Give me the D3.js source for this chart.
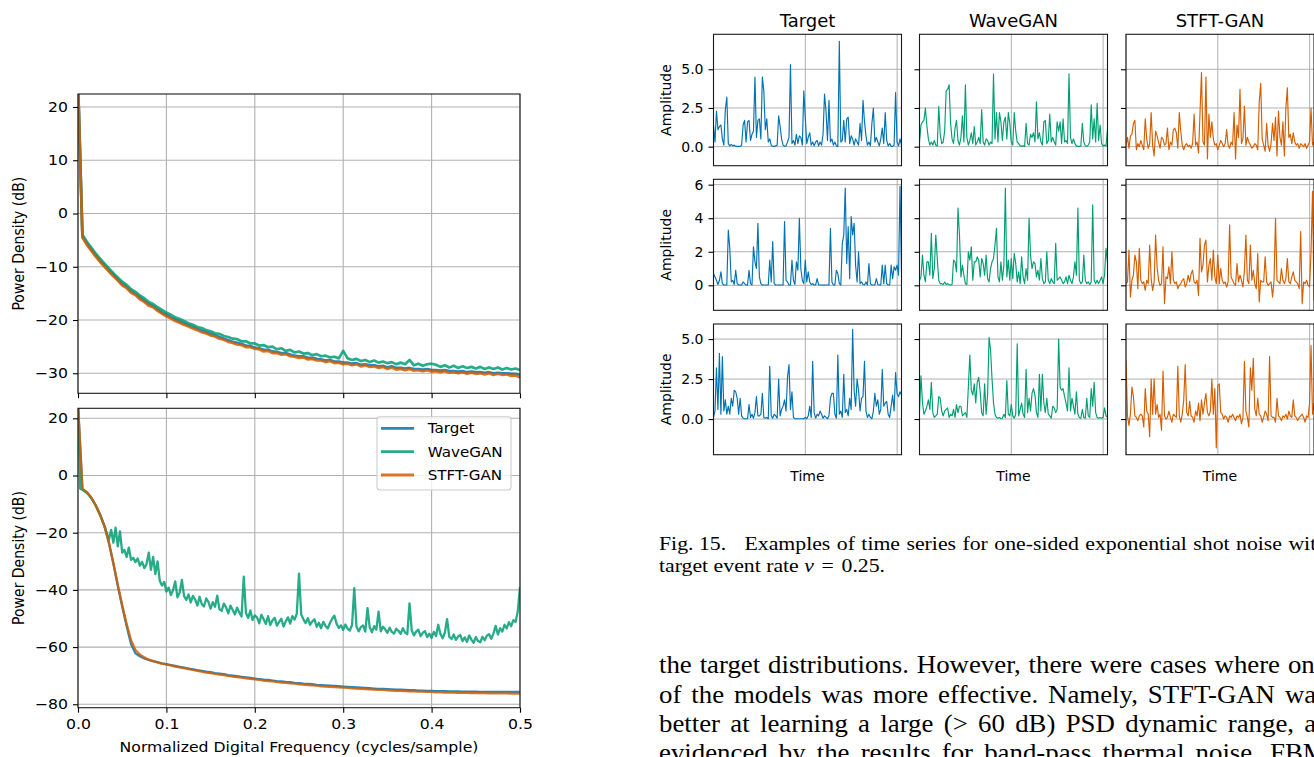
<!DOCTYPE html>
<html>
<head>
<meta charset="utf-8">
<script src="https://cdn.jsdelivr.net/npm/d3@7"></script>
<style>
  html, body { margin: 0; padding: 0; background: #fff; overflow: hidden; }
  svg { display: block; }
</style>
</head>
<body>
<svg id="page" width="1314" height="757"></svg>
<script>
// ---------------- Power spectral densities (dB) ----------------
const psdSeriesNames = ["Target", "WaveGAN", "STFT-GAN"];
const psdFreqTicks = [0, 0.1, 0.2, 0.3, 0.4, 0.5];
const psdTopDbTicks = [-30, -20, -10, 0, 10, 20];
const psdBottomDbTicks = [-80, -60, -40, -20, 0, 20];

// upper panel, bins every 0.005 cycles/sample (first bin = DC)
const psdTopTarget = [25,
  -4.3, -5.6, -6.8, -7.8, -8.9, -9.7, -10.7, -11.5, -12.4, -13.2,
  -13.8, -14.6, -15.1, -15.8, -16.4, -17.0, -17.4, -18.0, -18.6, -19.0,
  -19.5, -19.9, -20.3, -20.6, -21.0, -21.3, -21.7, -22.0, -22.3, -22.6,
  -22.9, -23.2, -23.5, -23.8, -24.1, -24.3, -24.5, -24.8, -24.9, -25.2,
  -25.3, -25.6, -25.6, -25.9, -26.0, -26.2, -26.2, -26.5, -26.7, -26.8,
  -26.8, -27.1, -27.1, -27.3, -27.4, -27.6, -27.5, -27.8, -27.8, -28.0,
  -28.0, -28.2, -28.1, -28.4, -28.3, -28.5, -28.5, -28.7, -28.6, -28.9,
  -28.7, -29.0, -29.0, -29.1, -29.0, -29.2, -29.2, -29.3, -29.2, -29.4,
  -29.4, -29.5, -29.4, -29.6, -29.6, -29.7, -29.6, -29.8, -29.7, -29.8,
  -29.8, -29.9, -29.8, -30.0, -29.9, -30.0, -30.0, -30.1, -30.1, -30.3];
const psdTopWaveGAN = [25,
  -4.0, -5.3, -6.4, -7.5, -8.5, -9.4, -10.3, -11.2, -12.0, -12.8,
  -13.4, -14.2, -14.7, -15.4, -15.9, -16.6, -17.0, -17.6, -18.1, -18.6,
  -19.0, -19.5, -19.8, -20.2, -20.6, -20.9, -21.3, -21.5, -21.9, -22.1,
  -22.5, -22.6, -23.0, -23.2, -23.5, -23.6, -24.0, -24.0, -24.4, -24.4,
  -24.8, -24.7, -25.1, -25.0, -25.5, -25.3, -25.8, -25.6, -26.1, -25.9,
  -26.3, -26.2, -26.6, -26.4, -26.8, -26.7, -27.0, -26.9, -27.2, -25.8,
  -27.2, -27.5, -27.3, -27.7, -27.5, -27.9, -27.6, -28.0, -27.8, -28.1,
  -27.9, -28.3, -28.0, -28.3, -27.5, -28.5, -28.2, -28.6, -28.3, -28.2,
  -28.4, -28.8, -28.5, -28.9, -28.6, -29.0, -28.7, -29.0, -28.8, -29.1,
  -28.8, -29.2, -28.9, -29.2, -28.9, -29.3, -29.0, -29.3, -29.1, -29.4];
const psdTopSTFT = [25,
  -4.5, -5.9, -7.0, -8.1, -9.1, -10.0, -10.9, -11.8, -12.6, -13.5,
  -14.0, -14.9, -15.3, -16.1, -16.6, -17.3, -17.6, -18.3, -18.8, -19.3,
  -19.7, -20.2, -20.5, -20.9, -21.2, -21.6, -21.9, -22.3, -22.5, -22.9,
  -23.1, -23.5, -23.7, -24.1, -24.3, -24.6, -24.7, -25.1, -25.1, -25.4,
  -25.5, -25.9, -25.8, -26.2, -26.2, -26.5, -26.4, -26.8, -26.9, -27.1,
  -27.0, -27.4, -27.3, -27.6, -27.6, -27.9, -27.7, -28.1, -28.0, -28.3,
  -28.2, -28.5, -28.3, -28.7, -28.5, -28.8, -28.7, -29.0, -28.8, -29.2,
  -28.9, -29.3, -29.2, -29.4, -29.2, -29.5, -29.4, -29.6, -29.4, -29.7,
  -29.6, -29.8, -29.6, -29.9, -29.8, -30.0, -29.8, -30.1, -29.9, -30.1,
  -30.0, -30.2, -30.0, -30.3, -30.1, -30.3, -30.2, -30.5, -30.4, -30.8];

// lower panel, bins every 0.005 (Target, STFT-GAN) and 0.0025 (WaveGAN)
const psdBottomTarget = [25,
  -4.8, -5.9, -7.8, -10.5, -13.8, -17.8, -23.6, -30.8, -38.6, -45.8,
  -52.6, -58.9, -62.2, -63.2, -64.0, -64.5, -64.9, -65.3, -65.7, -66.0,
  -66.3, -66.6, -66.9, -67.2, -67.5, -67.8, -68.1, -68.3, -68.6, -68.8,
  -69.1, -69.3, -69.5, -69.8, -70.0, -70.2, -70.4, -70.6, -70.8, -71.0,
  -71.2, -71.4, -71.5, -71.7, -71.9, -72.0, -72.2, -72.3, -72.5, -72.6,
  -72.8, -72.9, -73.0, -73.2, -73.3, -73.4, -73.5, -73.6, -73.7, -73.8,
  -73.9, -74.0, -74.1, -74.2, -74.3, -74.4, -74.5, -74.6, -74.6, -74.7,
  -74.8, -74.9, -74.9, -75.0, -75.1, -75.1, -75.2, -75.2, -75.3, -75.3,
  -75.4, -75.4, -75.4, -75.5, -75.5, -75.5, -75.6, -75.6, -75.6, -75.6,
  -75.7, -75.7, -75.7, -75.7, -75.7, -75.7, -75.7, -75.7, -75.7, -75.7];
const psdBottomSTFT = [25,
  -4.6, -5.8, -7.7, -10.4, -13.7, -17.8, -23.5, -30.6, -38.2, -45.3,
  -51.9, -57.6, -61.0, -62.6, -63.6, -64.4, -64.9, -65.4, -65.8, -66.1,
  -66.4, -66.8, -67.1, -67.4, -67.7, -68.0, -68.3, -68.6, -68.9, -69.1,
  -69.4, -69.6, -69.8, -70.1, -70.3, -70.5, -70.7, -70.9, -71.1, -71.3,
  -71.5, -71.7, -71.9, -72.0, -72.2, -72.4, -72.5, -72.7, -72.8, -73.0,
  -73.1, -73.3, -73.4, -73.5, -73.7, -73.8, -73.9, -74.0, -74.1, -74.2,
  -74.3, -74.4, -74.5, -74.6, -74.7, -74.8, -74.9, -75.0, -75.0, -75.1,
  -75.2, -75.3, -75.3, -75.4, -75.5, -75.5, -75.6, -75.6, -75.7, -75.7,
  -75.8, -75.8, -75.9, -75.9, -75.9, -76.0, -76.0, -76.0, -76.1, -76.1,
  -76.1, -76.1, -76.2, -76.2, -76.2, -76.2, -76.2, -76.3, -76.3, -76.3];
const psdBottomWaveGAN = [25,
  -4.6, -5.0, -5.5, -6.1, -6.9, -7.9, -9.0, -10.4, -12.0, -13.7,
  -15.6, -17.7, -20.0, -22.5, -19.0, -23.5, -18.2, -24.8, -19.5, -27.0,
  -26.0, -28.5, -25.2, -29.5, -28.8, -30.3, -29.0, -31.5, -30.2, -32.4,
  -31.0, -27.0, -33.0, -28.5, -34.5, -30.0, -36.8, -38.5, -37.2, -40.6,
  -39.2, -41.8, -40.1, -37.0, -42.6, -41.0, -36.5, -42.2, -43.5, -41.6,
  -44.4, -42.1, -43.3, -45.5, -42.4, -44.9, -45.8, -43.0, -44.2, -46.6,
  -44.3, -45.9, -42.0, -46.8, -47.3, -44.8, -46.1, -48.2, -45.5, -47.0,
  -48.6, -46.2, -47.9, -49.3, -35.4, -48.1, -49.8, -47.2, -50.5, -48.9,
  -49.6, -51.7, -48.7, -50.3, -51.9, -49.2, -52.3, -50.6, -49.8, -52.5,
  -51.2, -50.1, -52.8, -51.0, -49.6, -51.8, -49.2, -50.4, -48.3, -34.3,
  -48.6, -50.3, -51.6, -49.9, -52.2, -51.0, -50.3, -52.9, -51.5, -53.4,
  -51.2, -52.6, -53.5, -51.6, -50.1, -49.0, -51.8, -53.3, -52.4, -54.0,
  -52.1, -53.6, -54.2, -52.3, -39.4, -52.8, -54.5, -53.0, -52.4, -54.6,
  -46.4, -53.1, -54.8, -52.7, -53.9, -47.6, -54.5, -52.9, -53.8, -55.0,
  -53.2, -54.7, -55.3, -53.6, -54.3, -55.4, -53.4, -54.9, -55.5, -44.7,
  -54.1, -55.9, -54.6, -53.9, -56.2, -55.0, -54.4, -56.5, -55.3, -56.8,
  -54.7, -56.1, -52.2, -55.4, -56.9, -55.0, -50.2, -56.4, -57.2, -55.6,
  -57.5, -56.3, -55.8, -57.9, -56.6, -58.2, -55.9, -57.4, -58.5, -56.5,
  -57.9, -58.3, -56.4, -57.6, -56.0, -55.5, -57.1, -55.2, -52.6, -55.6,
  -53.4, -54.6, -52.2, -53.5, -51.3, -52.7, -50.6, -51.2, -47.5, -39.0];

// ---------------- Time series examples ----------------
const tsColumnNames = ["Target", "WaveGAN", "STFT-GAN"];
const tsTimeTicks = [0, 2000, 4000];
const tsAmpTicksRow1 = [0, 2.5, 5];
const tsAmpTicksRow2 = [0, 2, 4, 6];
const tsAmpTicksRow3 = [0, 2.5, 5];

const tsTarget1 = [
  1.4, 0.3, 2.3, 1.1, 1.3, 1.4, 0.5, 0.1, 2.4, 3.2, 0.2, 0.05, 0.15, 0.05, 0.1, 0.02,
  0.02, 0.02, 0.02, 0.1, 1.4, 1.7, 0.3, 1.6, 1.7, 0.4, 0.8, 1.0, 4.5, 0.6, 1.7, 1.8,
  0.5, 4.5, 3.6, 1.1, 1.8, 0.3, 0.5, 0.1, 0.02, 0.02, 0.05, 0.1, 2.0, 1.3, 0.5, 0.1,
  0.02, 0.05, 0.3, 0.6, 5.3, 0.2, 0.4, 0.1, 0.8, 0.2, 0.7, 0.6, 0.1, 3.6, 1.9, 0.2,
  0.6, 0.9, 0.1, 0.3, 0.05, 0.3, 0.4, 0.05, 0.3, 0.1, 0.8, 3.4, 2.3, 0.4, 3.0, 0.3,
  0.5, 0.1, 0.3, 0.05, 0.02, 6.8, 0.3, 0.4, 1.7, 0.3, 1.8, 1.9, 0.2, 0.7, 0.5, 0.1,
  0.5, 0.3, 0.1, 1.5, 0.4, 3.0, 1.6, 0.7, 0.1, 0.3, 0.05, 1.5, 2.5, 0.3, 0.6, 0.3,
  0.05, 0.5, 1.2, 0.2, 2.2, 0.4, 0.05, 0.2, 0.02, 0.02, 0.1, 3.5, 0.3, 0.05, 0.5, 0.1];
const tsWaveGAN1 = [
  0.3, 1.4, 1.6, 1.7, 2.5, 1.3, 0.5, 0.1, 0.3, 0.1, 0.4, 0.1, 0.05, 2.6, 0.8, 0.2,
  0.3, 1.0, 3.6, 3.7, 4.0, 1.5, 0.5, 0.2, 1.2, 1.7, 0.4, 0.1, 0.6, 2.0, 0.3, 4.0,
  0.6, 0.1, 0.4, 0.9, 0.2, 1.3, 0.1, 0.3, 0.6, 0.2, 2.4, 0.3, 0.1, 0.5, 0.4, 0.1,
  0.3, 0.2, 4.7, 0.5, 2.2, 0.3, 2.2, 1.6, 0.4, 1.6, 1.9, 0.5, 2.2, 1.5, 0.3, 0.1,
  2.2, 1.0, 0.3, 0.2, 0.05, 0.02, 0.05, 0.02, 1.5, 0.2, 0.1, 0.8, 0.6, 0.9, 0.3, 2.9,
  0.5, 0.9, 0.3, 0.1, 1.6, 1.7, 0.2, 0.4, 2.1, 0.3, 0.6, 0.3, 0.1, 1.6, 1.0, 1.6,
  0.2, 1.8, 0.3, 0.4, 0.2, 4.7, 0.6, 0.2, 0.5, 0.2, 0.05, 0.02, 0.02, 0.05, 1.5, 0.3,
  0.05, 0.02, 0.1, 0.3, 2.7, 0.5, 1.8, 0.3, 2.8, 0.4, 1.4, 0.2, 0.05, 0.1, 0.05, 1.1];
const tsSTFT1 = [
  0.1, 0.6, -0.1, 0.7, 0.8, 1.5, 1.7, -0.2, 0.2, 0.0, 0.4, 0.1, -0.2, 1.8, 0.5, -0.1,
  0.2, 2.2, 0.1, -0.6, 1.0, 0.7, 0.3, -0.1, 0.6, 0.5, 0.1, 0.2, 1.2, -0.2, 0.3, 0.1,
  1.1, 1.2, 0.9, -0.1, 2.2, 1.0, 0.1, -0.2, 0.1, 0.2, 0.0, 0.1, -0.1, 0.2, 2.1, 0.1,
  0.3, -0.4, 2.2, 4.8, 0.3, 0.1, 4.5, -0.8, 2.1, 0.6, 1.6, 0.5, 0.1, 0.2, -0.2, 0.1,
  0.4, 0.2, 0.0, 0.2, 1.1, 0.1, -0.1, 0.3, 0.1, 2.2, -0.8, 1.4, 0.6, 3.7, 0.2, 0.5,
  2.6, 0.1, 0.6, 0.3, 0.1, -0.1, 0.0, 0.2, 0.1, -0.2, 2.9, 4.1, 0.5, 0.1, -0.3, 1.5,
  0.1, -0.3, 0.2, 1.5, 0.4, 1.9, -0.6, 2.3, 0.6, 0.1, 1.6, -0.6, 2.5, 3.8, 0.6, 0.8,
  0.2, 0.9, 0.3, 0.1, 0.2, -0.1, 0.2, 0.1, 0.0, 0.2, -0.1, 0.1, 0.3, 2.5, 0.1, 0.3];

const tsTarget2 = [
  0.7, 0.5, 0.3, 0.05, 0.3, 0.8, 0.1, 0.02, 0.02, 0.02, 3.3, 2.2, 0.2, 0.3, 0.05, 0.9,
  0.1, 0.02, 0.02, 0.02, 0.2, 0.1, 0.02, 0.02, 0.9, 0.1, 0.02, 2.3, 1.4, 1.0, 3.7, 0.5,
  0.1, 0.02, 0.02, 0.02, 0.02, 0.02, 1.5, 0.2, 2.6, 0.1, 0.02, 0.02, 0.02, 0.02, 0.02, 0.02,
  3.8, 0.3, 0.2, 0.02, 0.02, 1.5, 0.3, 0.05, 1.4, 0.9, 4.0, 1.0, 0.3, 0.1, 1.5, 0.2,
  0.8, 0.2, 0.05, 0.1, 0.02, 0.02, 0.4, 0.02, 0.02, 0.02, 0.02, 0.02, 0.02, 0.02, 0.02, 3.4,
  0.2, 0.02, 0.02, 0.9, 0.7, 0.1, 0.02, 2.5, 3.0, 5.8, 1.3, 3.5, 0.4, 4.1, 3.0, 3.7,
  1.2, 0.2, 2.0, 0.1, 0.2, 0.05, 0.02, 0.2, 0.02, 1.3, 0.1, 0.02, 0.02, 0.02, 0.4, 0.05,
  0.02, 0.02, 1.2, 0.1, 1.2, 0.1, 0.02, 0.02, 1.2, 0.4, 1.1, 0.9, 1.2, 0.6, 5.9, 0.8];
const tsWaveGAN2 = [
  0.3, 0.5, 1.8, 0.6, 0.2, 1.4, 1.4, 0.6, 3.1, 0.4, 1.0, 3.0, 1.6, 0.3, 0.1, 0.1,
  0.05, 0.2, 0.05, 0.1, 0.05, 0.02, 0.05, 1.5, 1.4, 0.8, 4.6, 3.0, 0.5, 1.2, 0.6, 0.1,
  0.05, 2.0, 1.5, 2.3, 0.3, 1.4, 1.4, 1.7, 1.5, 0.5, 1.6, 1.3, 0.6, 1.8, 0.4, 0.2,
  1.0, 1.4, 1.6, 2.4, 3.4, 0.5, 0.2, 1.4, 0.3, 1.2, 5.8, 0.5, 1.5, 0.3, 1.6, 0.4,
  1.9, 1.3, 0.2, 0.8, 0.1, 1.7, 0.5, 0.1, 1.0, 0.3, 4.0, 1.8, 1.0, 1.4, 1.3, 0.5,
  0.9, 0.3, 1.6, 0.4, 0.1, 0.2, 2.0, 0.3, 0.1, 0.4, 0.2, 0.1, 2.5, 0.3, 0.4, 0.5,
  0.3, 0.1, 0.2, 0.5, 0.1, 0.6, 0.3, 0.1, 0.5, 1.4, 0.6, 4.6, 0.3, 0.1, 0.2, 1.8,
  0.3, 0.1, 0.2, 0.05, 0.2, 4.8, 0.3, 0.1, 0.3, 0.1, 0.3, 0.5, 0.1, 0.6, 2.2, 1.4];
const tsSTFT2 = [
  0.1, 0.2, 2.1, -0.7, 0.3, 0.6, 1.8, 1.4, -0.2, 2.2, 0.3, 0.1, 0.2, -0.3, 0.3, 0.1,
  2.4, 0.4, -0.3, 0.2, 3.0, 1.1, 0.3, 0.0, 0.1, 2.3, -1.1, 0.5, 0.4, 1.1, 0.1, 2.0,
  0.3, 0.1, 0.2, -0.2, 0.0, 0.1, 0.3, 0.4, -0.1, 0.1, 0.6, 0.2, 0.7, 0.9, 0.2, 0.1,
  0.3, -0.6, 2.8, 0.8, 1.2, 2.4, 2.7, 0.2, 1.2, 1.6, 0.3, 2.1, 0.5, 0.1, 1.8, 0.1,
  1.0, 0.3, 0.1, 0.2, -0.1, 0.2, 3.6, 0.5, 0.3, 0.1, 0.0, 1.3, 0.2, 0.6, 0.3, -0.1,
  0.9, 3.0, 0.3, 0.1, 2.4, 0.3, 0.9, 0.1, -0.2, 1.9, -1.0, 0.3, 0.2, 0.2, 1.7, 0.2,
  0.0, 0.1, 0.2, -0.7, 0.3, 4.0, 0.3, 0.2, 0.1, 1.0, 0.3, 0.1, 0.4, 1.6, 0.2, 0.1,
  0.5, 0.8, 0.3, 0.2, 0.1, -0.2, 3.2, -1.1, 0.2, 0.1, 0.3, 0.0, -0.1, 2.0, 5.6, -0.9];

const tsTarget3 = [
  0.1, 0.5, 3.2, 0.6, 4.1, 0.3, 3.9, 0.5, 1.2, 0.3, 0.8, 0.3, 1.3, 0.8, 1.8, 1.7,
  1.3, 0.3, 1.3, 0.2, 0.05, 0.02, 0.02, 0.02, 0.9, 0.1, 0.3, 0.05, 0.4, 1.4, 0.2, 0.2,
  0.3, 1.6, 0.1, 0.05, 0.1, 0.02, 3.3, 0.2, 0.05, 0.3, 0.2, 0.05, 2.5, 0.2, 0.6, 0.8,
  1.2, 0.5, 2.6, 3.4, 0.6, 1.7, 0.1, 0.02, 0.02, 0.02, 0.02, 0.02, 0.02, 0.02, 0.1, 0.02,
  0.2, 0.8, 0.1, 3.6, 0.4, 0.05, 0.3, 0.2, 0.5, 0.3, 0.05, 0.2, 0.1, 0.02, 0.2, 1.3,
  1.6, 1.6, 0.3, 0.05, 4.0, 0.3, 0.5, 0.1, 2.8, 0.4, 0.6, 0.2, 1.3, 0.6, 5.6, 1.8,
  0.8, 2.5, 1.8, 0.5, 1.3, 1.4, 3.6, 0.5, 0.1, 0.3, 0.1, 0.02, 0.5, 1.6, 0.8, 1.2,
  0.3, 0.6, 3.1, 0.8, 1.0, 1.1, 0.3, 0.1, 0.8, 1.5, 0.5, 2.9, 1.6, 1.4, 1.7, 1.5];
const tsWaveGAN3 = [
  0.5, 2.7, 1.0, 0.3, 0.5, 0.8, 1.2, 0.6, 2.3, 0.4, 0.1, 0.2, 0.3, 1.4, 1.3, 0.5,
  0.2, 0.5, 0.6, 0.7, 0.1, 0.3, 0.2, 0.6, 0.1, 0.9, 0.4, 0.8, 0.8, 0.2, 0.3, 0.4,
  0.1, 2.0, 4.0, 1.8, 1.5, 2.2, 1.0, 2.3, 2.6, 1.7, 0.4, 0.2, 2.2, 0.3, 1.5, 5.1,
  4.3, 2.5, 1.0, 0.3, 0.1, 0.05, 0.1, 0.02, 0.05, 0.3, 0.1, 2.4, 0.3, 0.2, 0.9, 0.2,
  0.05, 0.3, 4.7, 0.2, 0.6, 1.0, 0.3, 0.1, 3.1, 0.4, 1.3, 0.5, 1.6, 1.9, 1.5, 0.4,
  0.1, 2.8, 0.5, 2.8, 1.0, 0.4, 1.3, 0.3, 0.2, 0.05, 0.8, 0.7, 0.4, 0.6, 5.0, 2.0,
  1.8, 1.9, 1.4, 1.0, 0.5, 3.2, 0.5, 1.3, 0.8, 0.3, 1.7, 0.3, 0.1, 0.05, 0.6, 0.1,
  0.05, 1.3, 0.2, 0.1, 1.9, 0.8, 2.3, 0.4, 0.1, 0.05, 0.1, 0.05, 0.1, 0.7, 0.2, 0.1];
const tsSTFT3 = [
  3.7, 0.2, -0.4, 0.3, 2.0, 1.4, 0.2, 0.1, -0.1, 0.2, 0.3, 0.2, -0.5, 1.9, 0.5, 0.3,
  -1.1, 2.5, 0.3, 2.5, 0.3, 0.9, 0.1, 0.3, -0.7, 3.0, 0.2, 0.0, 0.1, 0.5, 0.1, -0.2,
  0.3, 0.2, 0.1, 3.3, 0.2, -0.2, 0.3, 1.2, 3.4, 0.4, 0.2, 1.1, 0.2, 0.1, -0.2, 0.5,
  0.2, 1.0, -0.1, 1.2, 0.3, 1.0, 1.6, 0.4, 0.2, 0.5, 2.5, 0.3, 1.9, -1.8, 2.1, 2.2,
  0.4, 0.3, 0.0, 0.2, 0.1, -0.2, 0.2, 0.1, 0.3, 0.1, -0.1, 0.2, 0.1, 0.3, -0.3, 0.1,
  3.6, 0.5, 0.1, -0.5, 3.2, 1.8, 3.8, 0.6, 0.2, 1.3, 0.3, 0.2, -0.2, 0.1, 0.5, 0.3,
  -0.1, 3.9, 0.2, 0.1, 0.1, -0.2, 1.3, 0.2, 0.1, -0.1, 0.2, 0.1, 0.3, 0.0, 0.5, 0.2,
  0.1, 1.2, 0.2, 0.1, -0.1, 0.1, 0.2, 0.3, 0.1, -0.2, 0.2, 0.1, 1.0, 4.6, 0.3, 1.0];

// ---------------- drawing ----------------
const FONT = "'DejaVu Sans', sans-serif";
const SERIF = "'Liberation Serif', 'Times New Roman', serif";
const colors = { "Target": "#0072B2", "WaveGAN": "#009E73", "STFT-GAN": "#D55E00" };
const GRID = "#b0b0b0";
const PSD_TEXT_STRETCH = 1.12;   // the spectrum figure is set slightly wider than tall
const PAGE_TEXT_STRETCH = 1.1;   // page typeface runs a little wider than Liberation Serif
const svg = d3.select("#page");
svg.append("rect").attr("width", 1314).attr("height", 757).attr("fill", "#fff");

let clipSeq = 0;
function addClip(b) {
  const id = "plotclip" + (clipSeq++);
  svg.append("clipPath").attr("id", id).append("rect")
    .attr("x", b.x0).attr("y", b.y0).attr("width", b.x1 - b.x0).attr("height", b.y1 - b.y0);
  return id;
}

// widen text horizontally around its anchor point
function stretchText(sel, sx) {
  sel.each(function () {
    const t = d3.select(this);
    const x = +t.attr("x") || 0, y = +t.attr("y") || 0;
    const prev = t.attr("transform") || "";
    t.attr("x", 0).attr("y", 0).attr("transform", `translate(${x},${y}) scale(${sx},1) ${prev}`);
  });
}

function styleAxis(g, size) {
  g.attr("font-family", FONT).attr("font-size", size);
  g.select(".domain").remove();
  g.selectAll(".tick line").attr("stroke", "#000").attr("stroke-width", 1.1);
  g.selectAll(".tick text").attr("fill", "#000");
}

function drawGrid(g, box, x, y, xTicks, yTicks, width) {
  g.append("g").selectAll("line").data(xTicks).join("line")
    .attr("x1", d => x(d)).attr("x2", d => x(d))
    .attr("y1", box.y0).attr("y2", box.y1)
    .attr("stroke", GRID).attr("stroke-width", width);
  g.append("g").selectAll("line").data(yTicks).join("line")
    .attr("x1", box.x0).attr("x2", box.x1)
    .attr("y1", d => y(d)).attr("y2", d => y(d))
    .attr("stroke", GRID).attr("stroke-width", width);
}

function drawFrame(g, box) {
  g.append("rect")
    .attr("x", box.x0).attr("y", box.y0)
    .attr("width", box.x1 - box.x0).attr("height", box.y1 - box.y0)
    .attr("fill", "none").attr("stroke", "#1a1a1a").attr("stroke-width", 1.1);
}

// Power spectral density panel
function drawPsdPanel(box, yDomain, yTicks, series, showXLabels, lineWidth) {
  const x = d3.scaleLinear().domain([0, 0.5]).range([box.x0, box.x1]);
  const y = d3.scaleLinear().domain(yDomain).range([box.y1, box.y0]);
  const g = svg.append("g");
  const clip = addClip(box);
  drawGrid(g, box, x, y, psdFreqTicks, yTicks, 1.1);

  const line = d3.line().x(d => x(d[0])).y(d => y(d[1]));
  const lines = g.append("g").attr("clip-path", `url(#${clip})`);
  series.forEach(s => {
    const step = 0.5 / (s.values.length - 1);
    lines.append("path")
      .datum(s.values.map((v, i) => [i * step, v]))
      .attr("d", line)
      .attr("fill", "none")
      .attr("stroke", colors[s.name])
      .attr("stroke-opacity", 0.85)
      .attr("stroke-width", lineWidth)
      .attr("stroke-linejoin", "round");
  });
  drawFrame(g, box);

  const ax = g.append("g").attr("transform", `translate(0,${box.y1})`)
    .call(d3.axisBottom(x).tickValues(psdFreqTicks).tickSize(5).tickPadding(6)
      .tickFormat(showXLabels ? d3.format(".1f") : () => ""));
  styleAxis(ax, 14);
  stretchText(ax.selectAll(".tick text"), PSD_TEXT_STRETCH);
  const ay = g.append("g").attr("transform", `translate(${box.x0},0)`)
    .call(d3.axisLeft(y).tickValues(yTicks).tickSize(5).tickPadding(5).tickFormat(d3.format("d")));
  styleAxis(ay, 14);
  stretchText(ay.selectAll(".tick text"), PSD_TEXT_STRETCH);

  g.append("text")
    .attr("transform", `translate(18.6,${(box.y0 + box.y1) / 2}) scale(${PSD_TEXT_STRETCH},1) rotate(-90)`)
    .attr("text-anchor", "middle").attr("dy", "0.35em")
    .attr("font-family", FONT).attr("font-size", 14).attr("fill", "#000")
    .text("Power Density (dB)");
  return { x, y };
}

const topBox = { x0: 78, x1: 520, y0: 94, y1: 393.3 };
const botBox = { x0: 78, x1: 520, y0: 408.3, y1: 707.7 };

drawPsdPanel(topBox, [-33.76, 22.44], psdTopDbTicks, [
  { name: "Target", values: psdTopTarget },
  { name: "WaveGAN", values: psdTopWaveGAN },
  { name: "STFT-GAN", values: psdTopSTFT }
], false, 2.7);

drawPsdPanel(botBox, [-81.2, 23.5], psdBottomDbTicks, [
  { name: "Target", values: psdBottomTarget },
  { name: "WaveGAN", values: psdBottomWaveGAN },
  { name: "STFT-GAN", values: psdBottomSTFT }
], true, 2.3);

const xTitle = svg.append("text")
  .attr("x", (botBox.x0 + botBox.x1) / 2).attr("y", 751.5)
  .attr("text-anchor", "middle")
  .attr("font-family", FONT).attr("font-size", 14).attr("fill", "#000")
  .text("Normalized Digital Frequency (cycles/sample)");
stretchText(xTitle, PSD_TEXT_STRETCH);

// legend
const legend = svg.append("g");
legend.append("rect")
  .attr("x", 377).attr("y", 416.7).attr("width", 134).attr("height", 73.3).attr("rx", 3)
  .attr("fill", "#fff").attr("fill-opacity", 0.8)
  .attr("stroke", "#cccccc").attr("stroke-width", 1.1);
psdSeriesNames.forEach((name, i) => {
  const cy = 428.3 + i * 23.35;
  legend.append("line")
    .attr("x1", 381).attr("x2", 414).attr("y1", cy).attr("y2", cy)
    .attr("stroke", colors[name]).attr("stroke-opacity", 0.85).attr("stroke-width", 2.8);
  const t = legend.append("text")
    .attr("x", 427.7).attr("y", cy).attr("dy", "0.35em")
    .attr("font-family", FONT).attr("font-size", 14).attr("fill", "#000")
    .text(name);
  stretchText(t, 1.08);
});

// Time series grid (3 rows x 3 models)
const tsColX = [713.5, 919.5, 1126];
const tsWidth = 188;
const tsRows = [
  { y0: 34.3, y1: 165.7, domain: [-1.23, 7.26], ticks: tsAmpTicksRow1, fmt: ".1f",
    series: [tsTarget1, tsWaveGAN1, tsSTFT1] },
  { y0: 179.3, y1: 310.3, domain: [-1.49, 6.32], ticks: tsAmpTicksRow2, fmt: "d",
    series: [tsTarget2, tsWaveGAN2, tsSTFT2] },
  { y0: 324, y1: 454.7, domain: [-2.23, 5.94], ticks: tsAmpTicksRow3, fmt: ".1f",
    series: [tsTarget3, tsWaveGAN3, tsSTFT3] }
];
const tsLastSample = 4095;

tsRows.forEach((row, r) => {
  tsColumnNames.forEach((name, c) => {
    const box = { x0: tsColX[c], x1: tsColX[c] + tsWidth, y0: row.y0, y1: row.y1 };
    const x = d3.scaleLinear().domain([0, tsLastSample]).range([box.x0, box.x1]);
    const y = d3.scaleLinear().domain(row.domain).range([box.y1, box.y0]);
    const g = svg.append("g");
    const clip = addClip(box);
    drawGrid(g, box, x, y, tsTimeTicks, row.ticks, 1.0);

    const values = row.series[c];
    const n = values.length;
    const line = d3.line()
      .x((d, i) => x(i * tsLastSample / (n - 1)))
      .y(d => y(d));
    g.append("g").attr("clip-path", `url(#${clip})`)
      .append("path").datum(values)
      .attr("d", line)
      .attr("fill", "none")
      .attr("stroke", colors[name])
      .attr("stroke-width", 1.15)
      .attr("stroke-linejoin", "round");
    drawFrame(g, box);

    const ay = g.append("g").attr("transform", `translate(${box.x0},0)`)
      .call(d3.axisLeft(y).tickValues(row.ticks).tickSize(5).tickPadding(5)
        .tickFormat(c === 0 ? d3.format(row.fmt) : () => ""));
    styleAxis(ay, 14);

    if (c === 0) {
      g.append("text")
        .attr("transform", `translate(666.5,${(box.y0 + box.y1) / 2}) rotate(-90)`)
        .attr("text-anchor", "middle").attr("dy", "0.35em")
        .attr("font-family", FONT).attr("font-size", 14).attr("fill", "#000")
        .text("Amplitude");
    }
    if (r === 0) {
      g.append("text")
        .attr("x", (box.x0 + box.x1) / 2).attr("y", 26.5)
        .attr("text-anchor", "middle")
        .attr("font-family", FONT).attr("font-size", 18).attr("fill", "#000")
        .text(name);
    }
    if (r === tsRows.length - 1) {
      g.append("text")
        .attr("x", (box.x0 + box.x1) / 2).attr("y", 481)
        .attr("text-anchor", "middle")
        .attr("font-family", FONT).attr("font-size", 14).attr("fill", "#000")
        .text("Time");
    }
  });
});

// caption and running text (justified to the column width)
const COLUMN_LEFT = 659, COLUMN_RIGHT = 1327;
function justify(textSel, width, sx) {
  textSel.each(function () {
    const natural = this.getComputedTextLength();
    const spaces = (this.textContent.match(/ /g) || []).length;
    if (spaces > 0) d3.select(this).attr("word-spacing", Math.max(0, (width / sx - natural) / spaces));
  });
}

const cap = svg.append("g").attr("font-family", SERIF).attr("font-size", 19.8).attr("fill", "#000");
const capNum = cap.append("text").attr("x", COLUMN_LEFT).attr("y", 549.5).text("Fig. 15.");
const capLine1 = cap.append("text").attr("x", 744.5).attr("y", 549.5)
  .text("Examples of time series for one-sided exponential shot noise with");
justify(capLine1, COLUMN_RIGHT - 744.5, PAGE_TEXT_STRETCH);
const cap2 = cap.append("text").attr("x", COLUMN_LEFT).attr("y", 571.7);
cap2.append("tspan").text("target event rate ");
cap2.append("tspan").attr("font-style", "italic").text("ν");
cap2.append("tspan").attr("dx", 7).text("=");
cap2.append("tspan").attr("dx", 7).text("0.25.");
stretchText(capNum, PAGE_TEXT_STRETCH);
stretchText(capLine1, PAGE_TEXT_STRETCH);
stretchText(cap2, PAGE_TEXT_STRETCH);

const bodyLines = [
  "the target distributions. However, there were cases where one",
  "of the models was more effective. Namely, STFT-GAN was",
  "better at learning a large (> 60 dB) PSD dynamic range, as",
  "evidenced by the results for band-pass thermal noise. FBM"
];
const body = svg.append("g").attr("font-family", SERIF).attr("font-size", 24.4).attr("fill", "#000")
  .selectAll("text").data(bodyLines).join("text")
  .attr("x", COLUMN_LEFT).attr("y", (d, i) => 673.3 + i * 29.3)
  .text(d => d);
justify(body, COLUMN_RIGHT - COLUMN_LEFT, PAGE_TEXT_STRETCH);
stretchText(body, PAGE_TEXT_STRETCH);
</script>
</body>
</html>
